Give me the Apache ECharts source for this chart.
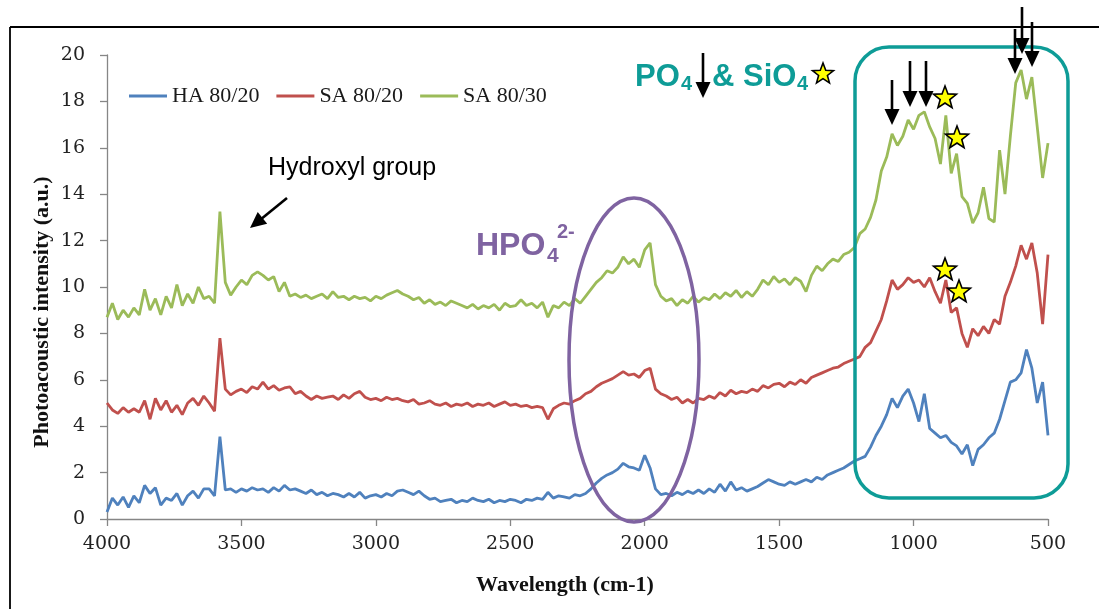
<!DOCTYPE html>
<html><head><meta charset="utf-8">
<script src="https://cdn.jsdelivr.net/npm/echarts@6/dist/echarts.min.js"></script>
<style>html,body{margin:0;padding:0;background:#fff}#c{width:1099px;height:609px}</style>
</head><body><div id="c"></div>
<script>
// Wavenumber grid (cm-1)
const wavenumbers = [
4000,3980,3960,3940,3920,3900,3880,3860,3840,3820,
3800,3780,3760,3740,3720,3700,3680,3660,3640,3620,
3600,3580,3560,3540,3520,3500,3480,3460,3440,3420,
3400,3380,3360,3340,3320,3300,3280,3260,3240,3220,
3200,3180,3160,3140,3120,3100,3080,3060,3040,3020,
3000,2980,2960,2940,2920,2900,2880,2860,2840,2820,
2800,2780,2760,2740,2720,2700,2680,2660,2640,2620,
2600,2580,2560,2540,2520,2500,2480,2460,2440,2420,
2400,2380,2360,2340,2320,2300,2280,2260,2240,2220,
2200,2180,2160,2140,2120,2100,2080,2060,2040,2020,
2000,1980,1960,1940,1920,1900,1880,1860,1840,1820,
1800,1780,1760,1740,1720,1700,1680,1660,1640,1620,
1600,1580,1560,1540,1520,1500,1480,1460,1440,1420,
1400,1380,1360,1340,1320,1300,1280,1260,1240,1220,
1200,1180,1160,1140,1120,1100,1080,1060,1040,1020,
1000,980,960,940,920,900,880,860,840,820,
800,780,760,740,720,700,680,660,640,620,
600,580,560,540,520,500];

const seriesNames = ['HA 80/20', 'SA 80/20', 'SA 80/30'];

const ha8020 = [
0.3,0.9,0.6,0.95,0.5,1.0,0.7,1.45,1.1,1.35,
0.6,0.9,0.8,1.1,0.6,1.0,1.2,0.9,1.3,1.3,
1.0,3.55,1.25,1.3,1.15,1.3,1.2,1.35,1.25,1.3,
1.15,1.35,1.2,1.45,1.25,1.3,1.2,1.1,1.25,1.05,
1.15,1.0,1.1,1.05,0.95,1.1,0.95,1.15,0.9,1.0,
1.05,0.95,1.1,1.0,1.2,1.25,1.15,1.05,1.2,1.0,
0.85,0.9,0.75,0.8,0.85,0.7,0.8,0.75,0.9,0.8,
0.75,0.85,0.7,0.8,0.75,0.85,0.8,0.7,0.85,0.8,
0.9,0.85,1.15,0.9,1.0,0.95,0.9,1.05,1.0,1.1,
1.3,1.55,1.75,1.9,2.0,2.15,2.4,2.25,2.2,2.1,
2.75,2.2,1.3,1.05,1.1,1.0,1.15,1.05,1.2,1.1,
1.25,1.1,1.3,1.15,1.5,1.2,1.6,1.25,1.35,1.2,
1.3,1.4,1.55,1.7,1.6,1.5,1.45,1.6,1.5,1.6,
1.7,1.6,1.8,1.7,1.9,2.0,2.1,2.2,2.35,2.5,
2.6,2.7,3.1,3.6,4.0,4.5,5.2,4.8,5.3,5.6,
5.0,4.2,5.4,3.9,3.7,3.5,3.6,3.3,3.15,2.8,
3.2,2.3,3.0,3.2,3.5,3.7,4.3,5.1,5.9,6.0,
6.3,7.3,6.5,5.0,5.9,3.6];

const sa8020 = [
5.0,4.7,4.55,4.8,4.6,4.75,4.6,5.1,4.3,5.2,
4.7,5.1,4.6,4.9,4.5,5.0,5.2,4.9,5.3,5.0,
4.65,7.8,5.6,5.35,5.5,5.6,5.45,5.7,5.6,5.9,
5.6,5.75,5.55,5.65,5.7,5.4,5.5,5.3,5.15,5.3,
5.2,5.25,5.3,5.15,5.35,5.2,5.4,5.5,5.25,5.15,
5.2,5.1,5.25,5.15,5.2,5.1,5.05,5.15,4.95,5.0,
5.1,4.95,4.9,5.0,4.85,4.95,4.9,5.0,4.85,4.95,
4.9,5.0,4.85,4.95,5.05,4.9,4.95,4.85,4.9,4.8,
4.85,4.8,4.3,4.75,4.9,5.0,4.95,5.1,5.2,5.4,
5.5,5.7,5.85,5.95,6.05,6.2,6.35,6.2,6.25,6.1,
6.4,6.5,5.6,5.4,5.3,5.15,5.25,5.0,5.15,5.0,
5.2,5.15,5.3,5.2,5.45,5.3,5.55,5.4,5.5,5.45,
5.6,5.5,5.75,5.65,5.8,5.85,5.7,5.9,5.8,6.0,
5.85,6.1,6.2,6.3,6.4,6.5,6.55,6.7,6.8,6.9,
7.0,7.4,7.6,8.1,8.6,9.4,10.3,9.9,10.1,10.4,
10.2,10.3,10.0,10.4,9.8,9.3,10.3,8.9,9.1,8.0,
7.4,8.2,7.9,8.3,8.0,8.6,8.4,9.6,10.2,10.9,
11.8,11.2,11.9,10.6,8.4,11.4];

const sa8030 = [
8.7,9.3,8.6,9.0,8.7,9.1,8.8,9.9,9.0,9.5,
8.8,9.6,9.1,10.1,9.2,9.7,9.3,10.0,9.5,9.6,
9.3,13.25,10.2,9.65,10.0,10.3,10.1,10.5,10.65,10.5,
10.3,10.45,9.8,10.2,9.6,9.7,9.55,9.65,9.5,9.6,
9.7,9.5,9.8,9.55,9.6,9.45,9.6,9.5,9.55,9.4,
9.6,9.5,9.65,9.75,9.85,9.7,9.6,9.45,9.55,9.3,
9.45,9.25,9.35,9.2,9.4,9.3,9.2,9.1,9.25,9.05,
9.2,9.1,9.25,9.0,9.3,9.15,9.2,9.45,9.2,9.3,
9.1,9.35,8.7,9.2,9.1,9.35,9.2,9.5,9.3,9.6,
9.9,10.2,10.4,10.7,10.6,10.85,11.3,11.0,11.2,10.85,
11.6,11.9,10.1,9.6,9.4,9.5,9.2,9.45,9.3,9.6,
9.35,9.55,9.45,9.7,9.5,9.75,9.6,9.85,9.55,9.8,
9.6,9.9,10.3,10.1,10.45,10.2,10.35,10.1,10.4,10.25,
9.8,10.5,10.9,10.7,11.0,11.2,11.1,11.4,11.5,11.7,
12.3,12.5,13.0,13.75,15.0,15.6,16.6,16.1,16.5,17.2,
16.8,17.4,17.55,16.9,16.4,15.3,17.4,14.9,15.75,13.9,
13.6,12.75,13.2,14.3,12.95,12.8,15.9,14.0,16.5,18.8,
19.35,18.1,19.05,16.9,14.7,16.2];

const xTicks = [500, 1000, 1500, 2000, 2500, 3000, 3500, 4000];
const yTicks = [0, 2, 4, 6, 8, 10, 12, 14, 16, 18, 20];
const colors = ['#4F81BD', '#C0504D', '#9BBB59'];
const allSeries = [ha8020, sa8020, sa8030];

function pairs(ys) { return wavenumbers.map((w, i) => [w, ys[i]]); }

const TEAL = '#0E9C97';
const PURPLE = '#7F63A1';

function starEl(cx, cy, R) {
  const pts = [];
  const r = R * 0.42;
  for (let k = 0; k < 10; k++) {
    const a = -Math.PI / 2 + k * Math.PI / 5;
    const rad = k % 2 === 0 ? R : r;
    pts.push([cx + rad * Math.cos(a), cy + rad * Math.sin(a)]);
  }
  return { type: 'polygon', z: 120, shape: { points: pts }, style: { fill: '#FFFF00', stroke: '#000', lineWidth: 1.6 } };
}
function arrowEls(x1, y1, x2, y2) {
  const head = 16, hw = 7.5;
  const dx = x2 - x1, dy = y2 - y1, L = Math.hypot(dx, dy);
  const ux = dx / L, uy = dy / L;
  const bx = x2 - ux * head, by = y2 - uy * head;
  const nx = -uy, ny = ux;
  return [
    { type: 'line', z: 120, shape: { x1: x1, y1: y1, x2: bx + ux * 2, y2: by + uy * 2 }, style: { stroke: '#000', lineWidth: 2.6 } },
    { type: 'polygon', z: 120, shape: { points: [[x2, y2], [bx + nx * hw, by + ny * hw], [bx - nx * hw, by - ny * hw]] }, style: { fill: '#000' } }
  ];
}
function txt(x, y, text, font, fill, align, extra) {
  return Object.assign({ type: 'text', z: 120, x: x, y: y,
    style: { text: text, font: font, fill: fill, align: align || 'left', textAlign: align || 'left', verticalAlign: 'middle', textVerticalAlign: 'middle' } }, extra || {});
}

const graphics = [
  // outer frame
  { type: 'line', z: 110, shape: { x1: 10, y1: 27, x2: 1099, y2: 27 }, style: { stroke: '#000', lineWidth: 1.8 } },
  { type: 'line', z: 110, shape: { x1: 10, y1: 27, x2: 10, y2: 609 }, style: { stroke: '#000', lineWidth: 1.8 } },
  // axis names
  txt(42, 312, 'Photoacoustic intensity (a.u.)', 'bold 22px "Liberation Serif"', '#111', 'center', { rotation: Math.PI / 2 }),
  txt(565, 585, 'Wavelength (cm-1)', 'bold 22px "Liberation Serif"', '#111', 'center'),
  // hydroxyl
  txt(268, 168, 'Hydroxyl group', '25px "Liberation Sans"', '#000', 'left'),
  ...arrowEls(287, 198, 250, 228),
  // HPO4 2-
  txt(476, 246, 'HPO', 'bold 32px "Liberation Sans"', PURPLE, 'left'),
  txt(547, 256, '4', 'bold 21px "Liberation Sans"', PURPLE, 'left'),
  txt(557, 232, '2-', 'bold 20px "Liberation Sans"', PURPLE, 'left'),
  { type: 'ellipse', z: 115, shape: { cx: 634, cy: 360, rx: 65, ry: 162 }, style: { fill: 'none', stroke: PURPLE, lineWidth: 3.5 } },
  // PO4 & SiO4
  txt(635, 77, 'PO', 'bold 31px "Liberation Sans"', TEAL, 'left'),
  txt(681, 84, '4', 'bold 20px "Liberation Sans"', TEAL, 'left'),
  ...arrowEls(703, 53, 703, 98),
  txt(712, 77, '& SiO', 'bold 31px "Liberation Sans"', TEAL, 'left'),
  txt(797, 84, '4', 'bold 20px "Liberation Sans"', TEAL, 'left'),
  starEl(823, 74, 11),
  // teal box
  { type: 'rect', z: 115, shape: { x: 855, y: 47, width: 213, height: 451, r: 34 }, style: { fill: 'none', stroke: TEAL, lineWidth: 3.5 } },
  // arrows in box
  ...arrowEls(892, 80, 892, 125),
  ...arrowEls(910, 61, 910, 107),
  ...arrowEls(926, 61, 926, 107),
  ...arrowEls(1015, 29, 1015, 74),
  ...arrowEls(1022, 7, 1022, 54),
  ...arrowEls(1032, 22, 1032, 67),
  starEl(945, 98, 12),
  starEl(957, 138, 12),
  starEl(945, 270, 12),
  starEl(959, 292, 12)
];

const chart = echarts.init(document.getElementById('c'), null, { renderer: 'canvas' });
chart.setOption({
  animation: false,
  backgroundColor: '#fff',
  color: colors,
  grid: { left: 107, right: 51, top: 55, bottom: 90 },
  legend: {
    data: seriesNames,
    left: 124, top: 80,
    icon: 'rect', itemWidth: 38, itemHeight: 3, itemGap: 17,
    textStyle: { fontFamily: 'Liberation Serif', fontSize: 22, color: '#1a1a1a' }
  },
  xAxis: {
    type: 'value', inverse: true, min: xTicks[0], max: xTicks[xTicks.length - 1], interval: 500,
    axisLine: { lineStyle: { color: '#868686', width: 1.3 } },
    axisTick: { show: true, length: 7, lineStyle: { color: '#868686', width: 1.3 } },
    axisLabel: { fontFamily: 'DejaVu Serif', fontSize: 19, color: '#222', margin: 16, formatter: v => String(v) },
    splitLine: { show: false }
  },
  yAxis: {
    type: 'value', min: yTicks[0], max: yTicks[yTicks.length - 1], interval: 2,
    axisLine: { show: true, lineStyle: { color: '#868686', width: 1.3 } },
    axisTick: { show: true, length: 7, lineStyle: { color: '#868686', width: 1.3 } },
    axisLabel: { fontFamily: 'DejaVu Serif', fontSize: 19, color: '#222', margin: 22, formatter: v => String(v) },
    splitLine: { show: false }
  },
  series: allSeries.map((ys, i) => ({
    name: seriesNames[i], type: 'line', data: pairs(ys), showSymbol: false, symbol: 'none',
    lineStyle: { width: 2.8, color: colors[i] }, itemStyle: { color: colors[i] }
  })),
  graphic: graphics
});
</script>
</body></html>
